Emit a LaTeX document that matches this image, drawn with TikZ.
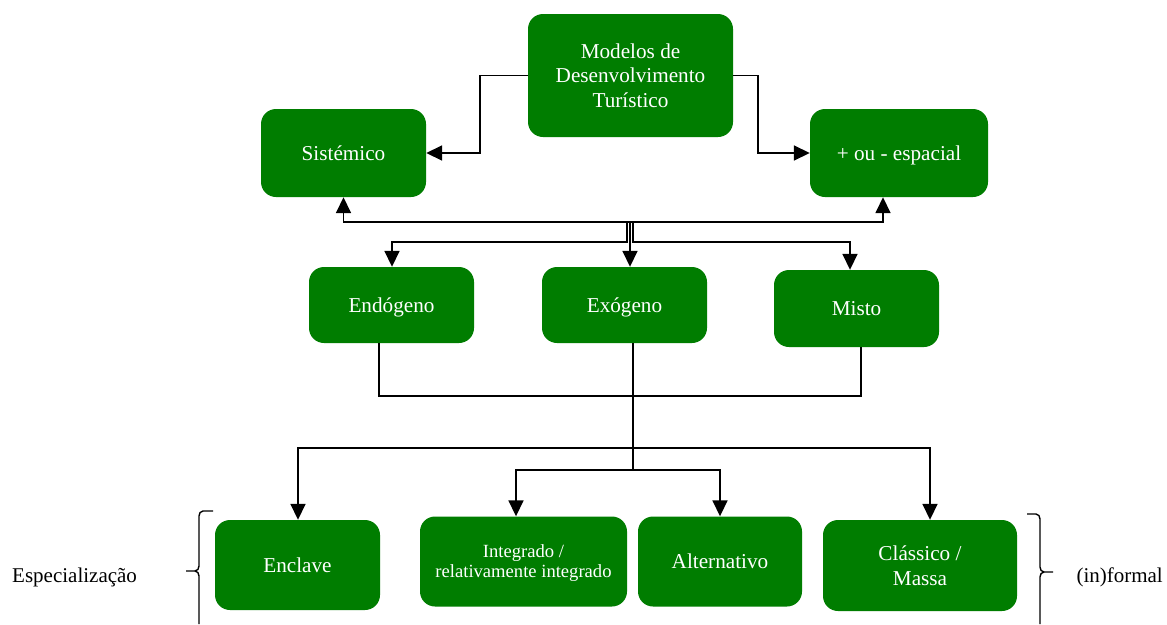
\documentclass[tikz,border=0pt]{standalone}
\usepackage{fontspec}
\setmainfont{Liberation Serif}
\usetikzlibrary{arrows.meta,decorations.pathreplacing}
\definecolor{boxgreen}{RGB}{0,125,0}
\tikzset{
  gbox/.style={fill=boxgreen, draw=none, rounded corners=15pt, text=white, align=center,
    font=\fontsize{21.2}{24.5}\selectfont, inner sep=0pt, text depth=-4pt},
  arr/.style={-{Triangle[length=16pt,width=15pt]}, line width=1.7pt, black},
  ln/.style={line width=1.7pt, black},
  lbl/.style={font=\fontsize{21}{24}\selectfont, inner sep=0pt}
}
\begin{document}
\begin{tikzpicture}[x=1pt,y=-1pt]
\useasboundingbox (0,0) rectangle (1167,624);
\fill[white] (0,0) rectangle (1167,624);

\node[gbox, minimum width=205pt, minimum height=123pt] (mod) at (630.5,75.5) {Modelos de\\Desenvolvimento\\Turístico};
\node[gbox, minimum width=165pt, minimum height=88pt] (sis) at (343.5,153) {Sistémico};
\node[gbox, minimum width=178pt, minimum height=88pt] (esp) at (899,153) {+ ou - espacial};
\node[gbox, minimum width=165pt, minimum height=76pt] (end) at (391.5,305) {Endógeno};
\node[gbox, minimum width=165pt, minimum height=76pt] (exo) at (624.5,305) {Exógeno};
\node[gbox, minimum width=165pt, minimum height=77pt] (mis) at (856.5,308.5) {Misto};
\node[gbox, minimum width=165pt, minimum height=90pt] (enc) at (297.5,565) {Enclave};
\node[gbox, minimum width=207pt, minimum height=90pt, font=\fontsize{18.6}{20}\selectfont] (int) at (523.5,561.5) {Integrado /\\relativamente integrado};
\node[gbox, minimum width=164pt, minimum height=90pt] (alt) at (720,561.5) {Alternativo};
\node[gbox, minimum width=194pt, minimum height=91pt] (cla) at (920,565.5) {Clássico /\\Massa};

\node[lbl, anchor=west] (esq) at (12,577) {Especialização};
\node[lbl, anchor=east] (inf) at (1163,577) {(in)formal};

% top connectors
\coordinate (l1) at (480,153);
\coordinate (r1) at (758,153);
\draw[arr] (mod.west) -| (l1) -- (sis.east);
\draw[arr] (mod.east) -| (r1) -- (esp.west);

% bus at y=222
\coordinate (hb) at (630,222);
\draw[arr] (hb) -| (sis.south);
\draw[arr] (hb) -| ([xshift=-16pt]esp.south);
\coordinate (dl) at (627,222);
\coordinate (dr) at (633,222);
\draw[arr] (dl) |- (392,242) -- ([xshift=0.5pt]end.north);
\draw[arr] (hb) -- ([xshift=5.5pt]exo.north);
\draw[arr] (dr) |- (850,242) -- ([xshift=-6.5pt]mis.north);

% lower connectors
\draw[ln] ([xshift=-12.5pt]end.south) |- (861,396) -- ([xshift=4.5pt]mis.south);
\draw[ln] ([xshift=8.5pt]exo.south) -- (633,470);
\draw[arr] (633,448) -| ([xshift=0.5pt]enc.north);
\draw[arr] (633,448) -| ([xshift=10pt]cla.north);
\draw[arr] (633,470) -| ([xshift=-7.5pt]int.north);
\draw[arr] (633,470) -| (alt.north);

% braces
\draw[line width=1.4pt] (213,511) -- (203,511) to[out=180,in=90] (199,516) -- (199,566) to[out=-90,in=0] (195,571) -- (186,571);
\draw[line width=1.4pt] (195,571) to[out=0,in=90] (199,576) -- (199,624);
\draw[line width=1.4pt] (1027,514) -- (1036,514) to[out=0,in=90] (1040,519) -- (1040,567) to[out=-90,in=180] (1044,572) -- (1053,572);
\draw[line width=1.4pt] (1044,572) to[out=180,in=90] (1040,577) -- (1040,624);
\end{tikzpicture}
\end{document}
